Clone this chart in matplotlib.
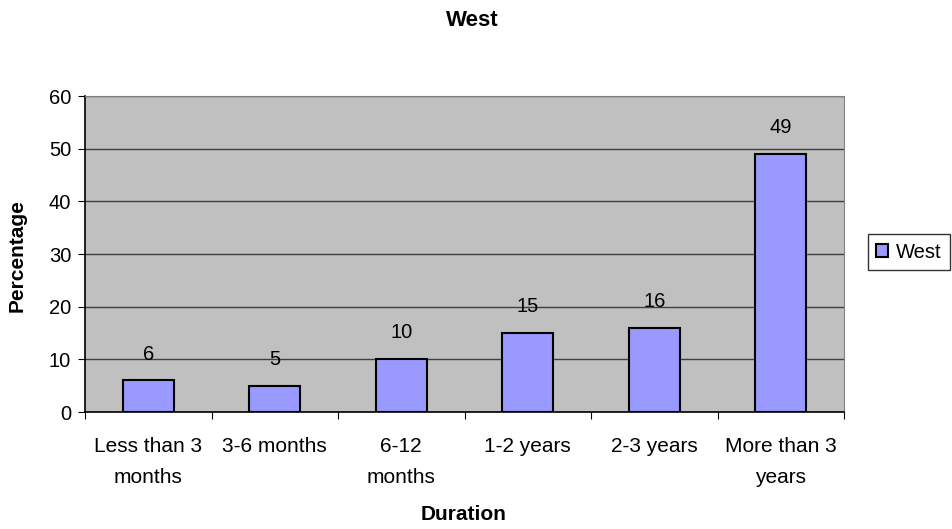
import matplotlib.pyplot as plt
import numpy as np

plt.rcParams['font.family'] = ['Liberation Sans', 'DejaVu Sans']

categories = ['Less than 3\nmonths', '3-6 months', '6-12\nmonths', '1-2 years', '2-3 years', 'More than 3\nyears']
values = [6, 5, 10, 15, 16, 49]

fig = plt.figure(figsize=(9.52, 5.29), dpi=100)
ax = fig.add_axes([85 / 952, 1 - 412 / 529, 759 / 952, 316 / 529])
ax.set_facecolor('#C0C0C0')

x = np.arange(len(categories))
ax.bar(x, values, width=0.4, color='#9999FF', edgecolor='black', linewidth=1.5, label='West', zorder=3)
for xi, v in zip(x, values):
    ax.text(xi, v + 5.0, str(v), ha='center', va='center', fontsize=14.5)

ax.set_xlim(-0.5, len(categories) - 0.5)
ax.set_ylim(0, 60)
ax.set_yticks(range(0, 61, 10))
ax.yaxis.grid(True, color='#404040', linewidth=1, zorder=0)
ax.set_axisbelow(True)

ax.set_xticks(np.arange(-0.5, len(categories), 1))
ax.set_xticklabels([])
ax.set_xticks(x, minor=True)
ax.set_xticklabels(categories, minor=True, fontsize=15, linespacing=1.8, va='top')
ax.tick_params(axis='x', which='minor', length=0, pad=18)
ax.tick_params(axis='x', which='major', length=5, direction='out', color='black')
ax.tick_params(axis='y', length=5, direction='out', labelsize=14.5, pad=5)

for s in ['top', 'right']:
    ax.spines[s].set_color('#808080')
for s in ['left', 'bottom']:
    ax.spines[s].set_color('black')
    ax.spines[s].set_linewidth(1.2)

fig.text(17 / 952, 1 - 256 / 529, 'Percentage', rotation=90, ha='center', va='center',
         fontsize=15, fontweight='bold')
fig.text(464 / 952, 1 - 515 / 529, 'Duration', ha='center', va='center', fontsize=15, fontweight='bold')
fig.text(472 / 952, 1 - 21 / 529, 'West', ha='center', va='center', fontsize=16, fontweight='bold')

leg = fig.legend(loc='center', bbox_to_anchor=(909 / 952, 1 - 252 / 529), fontsize=14.5,
                 frameon=True, fancybox=False, edgecolor='black', handlelength=0.6,
                 handleheight=0.6, handletextpad=0.4, borderpad=0.4)
leg.get_frame().set_linewidth(1)

fig.savefig('out.png', dpi=100)
